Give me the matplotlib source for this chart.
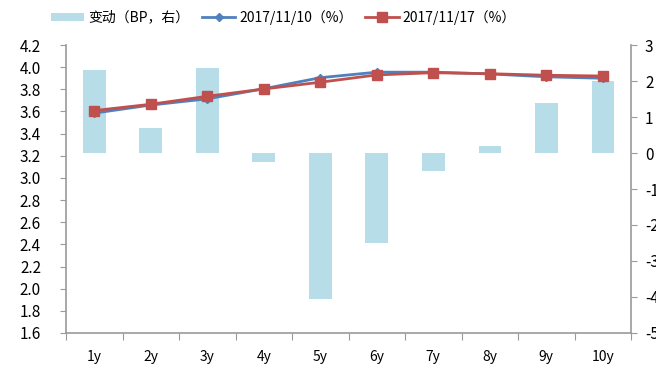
import matplotlib
matplotlib.use("Agg")
import matplotlib.pyplot as plt
import numpy as np
from matplotlib.patches import Patch
from matplotlib.lines import Line2D

plt.rcParams['font.family'] = ['Noto Sans CJK SC', 'DejaVu Sans']

tenors = ["1y", "2y", "3y", "4y", "5y", "6y", "7y", "8y", "9y", "10y"]
yield_1110 = [3.585, 3.658, 3.714, 3.805, 3.905, 3.955, 3.955, 3.939, 3.913, 3.900]
yield_1117 = [3.608, 3.665, 3.737, 3.803, 3.864, 3.930, 3.950, 3.941, 3.927, 3.920]
change_bp = [2.31, 0.69, 2.35, -0.25, -4.05, -2.5, -0.5, 0.2, 1.38, 2.0]

left_ticks = [1.6, 1.8, 2.0, 2.2, 2.4, 2.6, 2.8, 3.0, 3.2, 3.4, 3.6, 3.8, 4.0, 4.2]
right_ticks = [-5, -4, -3, -2, -1, 0, 1, 2, 3]

bar_color = "#b7dde8"
blue = "#4f81bd"
red = "#c0504d"
spine_color = "#9a9a9a"

fig = plt.figure(figsize=(6.56, 3.66), dpi=100)
ax = fig.add_axes([0.1006, 0.0902, 0.8614, 0.7868])
ax2 = ax.twinx()

x = np.arange(len(tenors))

ax2.bar(x, change_bp, width=0.4, color=bar_color, zorder=1)
ax2.set_ylim(-5, 3)
ax2.set_yticks(right_ticks)
ax2.set_yticklabels([str(t) for t in right_ticks])

ax.plot(x, yield_1110, color=blue, lw=2, marker="D", ms=4.5, zorder=3)
ax.plot(x, yield_1117, color=red, lw=2, marker="s", ms=7, zorder=4)
ax.set_ylim(1.6, 4.2)
ax.set_yticks(left_ticks)
ax.set_yticklabels([f"{t:.1f}" for t in left_ticks])
ax.set_xlim(-0.5, len(tenors) - 0.5)

ax.set_zorder(ax2.get_zorder() + 1)
ax.patch.set_visible(False)

# category boundaries carry the tick marks, labels sit at the centres
ax.set_xticks(np.arange(-0.5, len(tenors) + 0.5, 1.0))
ax.set_xticklabels([])
ax.set_xticks(x, minor=True)
ax.set_xticklabels(tenors, minor=True)
ax.tick_params(axis="x", which="minor", length=0, pad=12)
ax.tick_params(axis="x", which="major", length=5, color=spine_color)

for a in (ax, ax2):
    for s in a.spines.values():
        s.set_visible(False)
    a.tick_params(axis="x", labelsize=10.5)

ax.tick_params(axis="y", length=4, color=spine_color, labelsize=11, pad=14)
ax2.tick_params(axis="y", length=4, color=spine_color, labelsize=11, pad=6)

ax.spines["left"].set_visible(True)
ax.spines["bottom"].set_visible(True)
ax2.spines["right"].set_visible(True)
ax.spines["left"].set_color(spine_color)
ax.spines["bottom"].set_color(spine_color)
ax2.spines["right"].set_color(spine_color)
ax.spines["left"].set_linewidth(1.2)
ax.spines["bottom"].set_linewidth(1.2)
ax2.spines["right"].set_linewidth(1.2)

handles = [
    Patch(facecolor=bar_color, edgecolor="none"),
    Line2D([], [], color=blue, lw=2, marker="D", ms=4.5),
    Line2D([], [], color=red, lw=2, marker="s", ms=7),
]
labels = ["变动（BP，右）", "2017/11/10（%）", "2017/11/17（%）"]
fig.legend(handles, labels, loc="center", bbox_to_anchor=(0.432, 0.953), ncol=3,
           frameon=False, fontsize=10, handlelength=2.4, handleheight=0.55,
           columnspacing=0.9, handletextpad=0.3)

fig.savefig("out.png", dpi=100)
